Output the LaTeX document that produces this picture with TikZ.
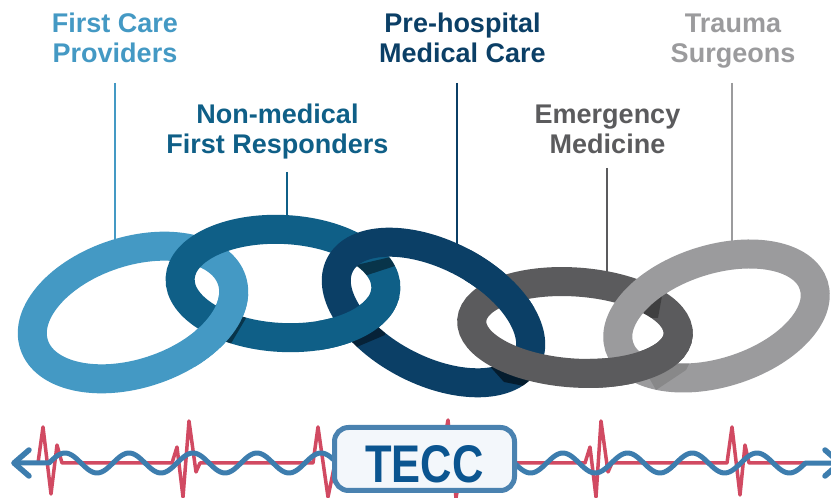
\documentclass[tikz,border=0pt]{standalone}
\usepackage{fontspec}
\setmainfont{Liberation Sans}
\definecolor{cA}{HTML}{4499C4}
\definecolor{cB}{HTML}{0F5F87}
\definecolor{cC}{HTML}{0B3F66}
\definecolor{cD}{HTML}{5B5B5D}
\definecolor{cE}{HTML}{9B9B9D}
\definecolor{ecgred}{HTML}{D14A62}
\definecolor{wavecol}{HTML}{3D7DAE}
\definecolor{boxline}{HTML}{4A82B0}
\definecolor{boxfill}{HTML}{F3F7FB}
\definecolor{teccblue}{HTML}{0B5590}
\begin{document}
\begin{tikzpicture}[x=1pt,y=1pt,
  lab/.style={font=\fontsize{27}{31}\selectfont\bfseries, inner sep=0pt, anchor=base},
  conn/.style={line width=2pt},
  ring/.style={line width=29pt},
  shade/.style={line width=29pt, black, opacity=0.45},
  rA/.style={rotate around={18:(133,185.5)}},
  rB/.style={rotate around={-3:(283,214.5)}},
  rC/.style={rotate around={-27:(433.5,185.5)}},
  rD/.style={rotate around={-4:(575,170.5)}},
  rE/.style={rotate around={17.5:(716.5,182)}},
  ecg/.style={ecgred, line width=3.5pt, line join=round},
  wavel/.style={wavecol, line width=5pt, line cap=round, line join=round},
  teccbox/.style={draw=boxline, line width=5pt, fill=boxfill, rounded corners=14pt,
    minimum width=180pt, minimum height=63pt, inner sep=0pt, text=teccblue,
    text height=48pt, text depth=0pt, font=\fontsize{53}{53}\selectfont\bfseries}]
\useasboundingbox (0,0) rectangle (831,498);
\fill[white] (0,0) rectangle (831,498);

% labels
\node[lab, text=cA] (fc1) at (115,465) {First Care};
\node[lab, text=cA] (fc2) at (115,435) {Providers};
\node[lab, text=cB] (nm1) at (277.5,374) {Non-medical};
\node[lab, text=cB] (nm2) at (277.5,344) {First Responders};
\node[lab, text=cC] (ph1) at (462.5,465) {Pre-hospital};
\node[lab, text=cC] (ph2) at (462.5,435) {Medical Care};
\node[lab, text=cD] (em1) at (607.5,374) {Emergency};
\node[lab, text=cD] (em2) at (607.5,344) {Medicine};
\node[lab, text=cE] (tr1) at (733,465) {Trauma};
\node[lab, text=cE] (tr2) at (733,435) {Surgeons};

% connector end points
\coordinate (c1a) at (115,415); \coordinate (c1b) at (115,253);
\coordinate (c2a) at (287,326); \coordinate (c2b) at (287,276);
\coordinate (c3a) at (457,415); \coordinate (c3b) at (457,250);
\coordinate (c4a) at (607,330); \coordinate (c4b) at (607,218);
\coordinate (c5a) at (732,415); \coordinate (c5b) at (732,250);
\draw[conn, cA] (c1a) -- (c1b);
\draw[conn, cB] (c2a) -- (c2b);
\draw[conn, cC] (c3a) -- (c3b);
\draw[conn, cD] (c4a) -- (c4b);
\draw[conn, cE] (c5a) -- (c5b);

% ring 1 and ring 2
\draw[ring, cA, rA] (133,185.5) ellipse [x radius=104, y radius=61];
\draw[ring, cB, rB] (283,214.5) ellipse [x radius=103, y radius=54];
\begin{scope}
  \clip (236,190) -- (252,190) -- (226,146) -- (210,146) -- cycle;
  \draw[shade, rB] (283,214.5) ellipse [x radius=103, y radius=54];
\end{scope}
\begin{scope}
  \clip (195,123) rectangle (262,203);
  \draw[ring, cA, rA] (133,185.5) ellipse [x radius=104, y radius=61];
\end{scope}

% ring 3
\begin{scope}
  \clip (352,232) -- (395,242) -- (395,232) -- (352,218) -- cycle;
  \draw[shade, rB] (283,214.5) ellipse [x radius=103, y radius=54];
\end{scope}
\draw[ring, cC, rC] (433.5,185.5) ellipse [x radius=105, y radius=58];
\begin{scope}
  \clip (345,160) -- (385,178) -- (385,163) -- (345,146) -- cycle;
  \draw[shade, rC] (433.5,185.5) ellipse [x radius=105, y radius=58];
\end{scope}
\begin{scope}
  \clip (318,133) rectangle (405,200);
  \draw[ring, cB, rB] (283,214.5) ellipse [x radius=103, y radius=54];
\end{scope}

% ring 4
\begin{scope}
  \clip (486,136) -- (542,126) -- (524,112) -- (504,116) -- cycle;
  \draw[shade, opacity=0.55, rC] (433.5,185.5) ellipse [x radius=105, y radius=58];
\end{scope}
\draw[ring, cD, rD] (575,170.5) ellipse [x radius=103.5, y radius=45.5];
\begin{scope}
  \clip (465,190) rectangle (555,248);
  \draw[ring, cC, rC] (433.5,185.5) ellipse [x radius=105, y radius=58];
\end{scope}

% ring 5
\begin{scope}
  \clip (630,213) -- (664,213) -- (658,180) -- (624,180) -- cycle;
  \draw[shade, opacity=0.3, rD] (575,170.5) ellipse [x radius=103.5, y radius=45.5];
\end{scope}
\draw[ring, cE, rE] (716.5,182) ellipse [x radius=102, y radius=56.5];
\begin{scope}
  \clip (640,136) -- (698,152) -- (686,128) -- (656,108) -- cycle;
  \draw[shade, opacity=0.12, rE] (716.5,182) ellipse [x radius=102, y radius=56.5];
\end{scope}
\begin{scope}
  \clip (590,98) rectangle (705,168);
  \draw[ring, cD, rD] (575,170.5) ellipse [x radius=103.5, y radius=45.5];
\end{scope}

% ECG trace
\draw[ecg] (12,35) -- (38,35) -- (43,71) -- (51,4) -- (57,53) -- (62,35)
  -- (172,35) -- (177,51) -- (183,1) -- (189,77) -- (196,26) -- (200,35)
  -- (313,35) -- (318,71) -- (328,1) -- (334,30) -- (440,35) -- (448,78)
  -- (456,0) -- (462,35) -- (585,35) -- (590,51) -- (596,1) -- (601,77)
  -- (608,26) -- (612,35) -- (727,35) -- (732,71) -- (740,3) -- (745,53)
  -- (749,35) -- (812,35);

% blue wave arrow
\draw[wavel] (14,35) -- (49,35) -- plot[domain=49:340, samples=140, smooth] (\x,{35+10*cos((\x-65)/64*360)});
\draw[wavel] plot[domain=505:805.5, samples=140, smooth] (\x,{35+10*cos((\x-757)/64.7*360)}) -- (840,35);
\draw[wavel, line width=5.5pt] (29,48) -- (14,35) -- (29,22);
\draw[wavel, line width=5.5pt] (825,48) -- (840,35) -- (825,22);

% TECC box
\node[teccbox] (tecc) at (424.5,39) {\scalebox{0.82}[1]{TECC}};
\end{tikzpicture}
\end{document}
